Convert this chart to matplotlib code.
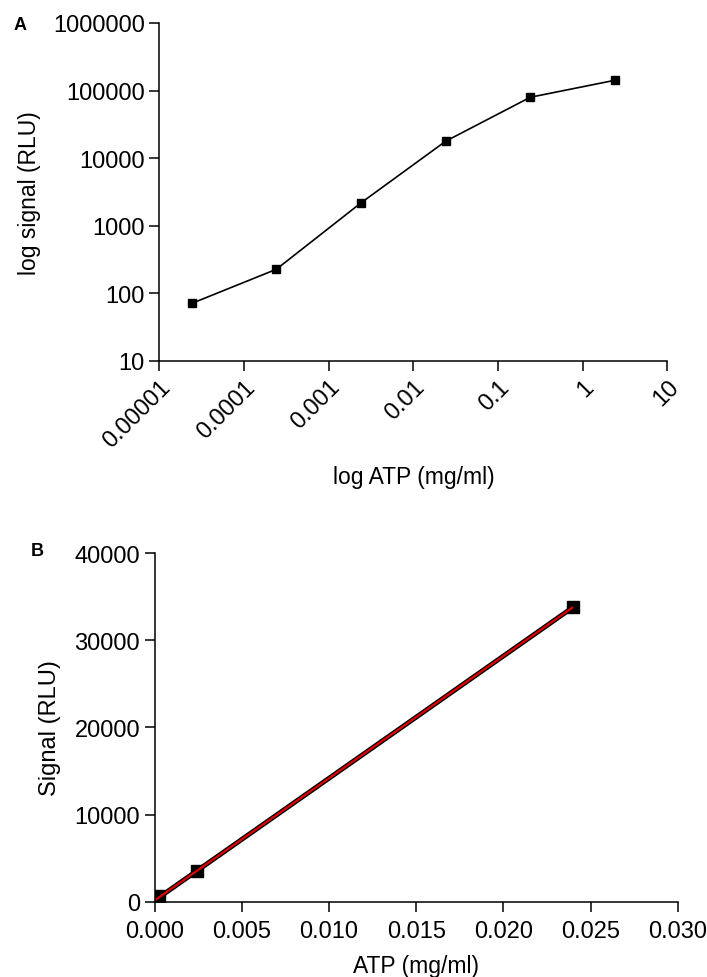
import matplotlib
matplotlib.use('Agg')
import matplotlib.pyplot as plt
from matplotlib.ticker import FixedLocator, FixedFormatter
import numpy as np

plt.rcParams['font.family'] = ['Liberation Sans', 'DejaVu Sans']

# panel A: log-log dose response
atp_log = [0.000024, 0.00024, 0.0024, 0.024, 0.24, 2.4]
signal_log = [71, 227, 2180, 17800, 79600, 142000]
xticks_a = [0.00001, 0.0001, 0.001, 0.01, 0.1, 1, 10]
xlabels_a = ['0.00001', '0.0001', '0.001', '0.01', '0.1', '1', '10']
yticks_a = [10, 100, 1000, 10000, 100000, 1000000]
ylabels_a = ['10', '100', '1000', '10000', '100000', '1000000']

# panel B: linear range
atp_lin = [0.000024, 0.00024, 0.0024, 0.024]
signal_lin = [70, 600, 3500, 33800]
xticks_b = [0.000, 0.005, 0.010, 0.015, 0.020, 0.025, 0.030]
yticks_b = [0, 10000, 20000, 30000, 40000]

fig = plt.figure(figsize=(7.07, 9.78), dpi=100)

def style(ax, fs):
    for s in ['top', 'right']:
        ax.spines[s].set_visible(False)
    for s in ['left', 'bottom']:
        ax.spines[s].set_linewidth(1.1)
    ax.tick_params(which='major', length=7, width=1.1, labelsize=fs, direction='out')
    ax.tick_params(which='minor', length=0)

axa = fig.add_axes([0.2256, 0.6299, 0.7184, 0.3456])
axa.plot(atp_log, signal_log, color='black', lw=1.2, marker='s', ms=5.5, mec='black', mfc='black')
axa.set_xscale('log')
axa.set_yscale('log')
axa.set_xlim(1e-5, 10)
axa.set_ylim(10, 1e6)
axa.xaxis.set_major_locator(FixedLocator(xticks_a))
axa.xaxis.set_major_formatter(FixedFormatter(xlabels_a))
axa.yaxis.set_major_locator(FixedLocator(yticks_a))
axa.yaxis.set_major_formatter(FixedFormatter(ylabels_a))
style(axa, 17)
plt.setp(axa.get_xticklabels(), rotation=45, ha='right', va='top', rotation_mode='anchor')
axa.set_xlabel('log ATP (mg/ml)', fontsize=16.5, labelpad=10)
axa.set_ylabel('log signal (RLU)', fontsize=16.5, labelpad=9)

axb = fig.add_axes([0.2188, 0.0770, 0.740, 0.3565])
slope, icpt = np.polyfit(atp_lin, signal_lin, 1)
fx = np.array([atp_lin[0], atp_lin[-1]])
axb.plot(atp_lin, signal_lin, ls='none', marker='s', ms=8, color='black')
axb.plot(fx, slope * fx + icpt, color='black', lw=3.5, solid_capstyle='butt')
axb.plot(fx, slope * fx + icpt, color='#e00000', lw=1.6, solid_capstyle='butt')
axb.set_xlim(0, 0.03)
axb.set_ylim(0, 40000)
axb.set_xticks(xticks_b)
axb.set_xticklabels(['%.3f' % v for v in xticks_b])
axb.set_yticks(yticks_b)
axb.set_yticklabels([str(v) for v in yticks_b])
style(axb, 17)
axb.tick_params(axis='x', pad=6)
axb.set_xlabel('ATP (mg/ml)', fontsize=16.5, labelpad=9)
axb.set_ylabel('Signal (RLU)', fontsize=17, labelpad=10)
for a in (axa, axb):
    for sp in a.spines.values():
        sp.set_clip_on(False)

fig.text(20 / 707, 1 - 25 / 978, 'A', fontsize=13, fontweight='bold', ha='center', va='center')
fig.text(37 / 707, 1 - 552 / 978, 'B', fontsize=13, fontweight='bold', ha='center', va='center')

fig.savefig('out.png', dpi=100)
plt.close(fig)
